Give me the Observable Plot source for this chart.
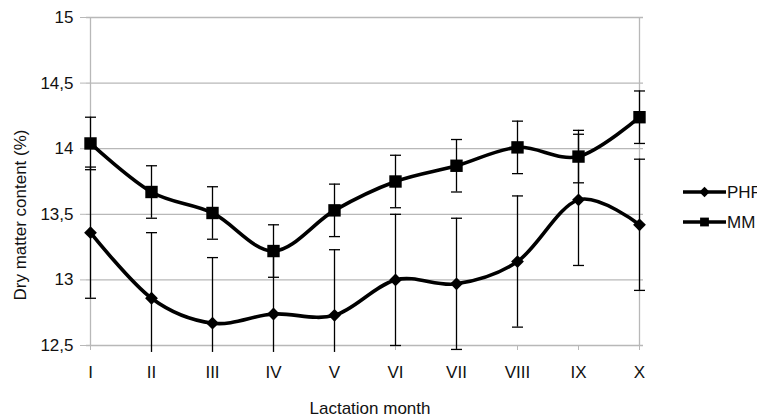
<!DOCTYPE html>
<html>
<head>
<meta charset="utf-8">
<script src="https://cdn.jsdelivr.net/npm/d3@7"></script>
<script src="https://cdn.jsdelivr.net/npm/@observablehq/plot@0.6"></script>
<style>
  html, body { margin: 0; padding: 0; background: #fff; overflow: hidden; }
  #chart svg { display: block; font-family: "Liberation Sans", Arial, sans-serif; }
</style>
</head>
<body>
<div id="chart"></div>
<script>
// ---- data ----
const months = ["I", "II", "III", "IV", "V", "VI", "VII", "VIII", "IX", "X"];
const seriesNames = ["PHF", "MM"];
const phfMean = [13.36, 12.86, 12.67, 12.74, 12.73, 13.00, 12.97, 13.14, 13.61, 13.42];
const phfSD   = [0.5, 0.5, 0.5, 0.5, 0.5, 0.5, 0.5, 0.5, 0.5, 0.5];
const mmMean  = [14.04, 13.67, 13.51, 13.22, 13.53, 13.75, 13.87, 14.01, 13.94, 14.24];
const mmSD    = [0.2, 0.2, 0.2, 0.2, 0.2, 0.2, 0.2, 0.2, 0.2, 0.2];
const yTicks  = [12.5, 13, 13.5, 14, 14.5, 15];
const yDomain = [12.5, 15];
const plotFloor = 12.447; // lower edge of the chart's plot area (error bars are cut here)

// ---- build table ----
const rows = [];
months.forEach((m, i) => {
  rows.push({month: m, series: "PHF", mean: phfMean[i], lo: phfMean[i] - phfSD[i], hi: phfMean[i] + phfSD[i]});
  rows.push({month: m, series: "MM", mean: mmMean[i], lo: mmMean[i] - mmSD[i], hi: mmMean[i] + mmSD[i]});
});
rows.forEach(r => { r.loClip = Math.max(r.lo, plotFloor); });
const lowCaps = rows.filter(r => r.lo >= plotFloor);

// ---- custom symbols ----
const diamond = {draw(ctx, size) { const r = Math.sqrt(size / Math.PI); ctx.moveTo(0, -r); ctx.lineTo(r, 0); ctx.lineTo(0, r); ctx.lineTo(-r, 0); ctx.closePath(); }};
const square  = {draw(ctx, size) { const r = Math.sqrt(size / Math.PI); ctx.rect(-r, -r, 2 * r, 2 * r); }};
const cap     = {draw(ctx, size) { const r = Math.sqrt(size / Math.PI); ctx.moveTo(-r, 0); ctx.lineTo(r, 0); }};

const fmt = d => String(d).replace(".", ",");
const grid = "#b8b8b8";
const W = 757, H = 419;

const chart = Plot.plot({
  width: W,
  height: H,
  marginLeft: 86,
  marginRight: 114,
  marginTop: 17,
  marginBottom: 74,
  style: {fontFamily: "Liberation Sans, Arial, sans-serif", fontSize: "17px", color: "#111", background: "#fff"},
  x: {type: "point", domain: months, padding: 0, label: null},
  y: {domain: yDomain, label: null},
  marks: [
    Plot.gridY(yTicks, {stroke: grid, strokeOpacity: 1, strokeWidth: 1.3}),
    Plot.ruleX([months[0], months[months.length - 1]], {stroke: grid, strokeWidth: 1.3}),
    Plot.axisY(yTicks, {tickFormat: fmt, tickSize: 6, tickPadding: 7, stroke: grid, fill: "#111", fontSize: 17}),
    Plot.axisX(months, {tickSize: 5, tickPadding: 15, stroke: grid, fill: "#111", fontSize: 17}),
    // error bars
    Plot.ruleX(rows, {x: "month", y1: "loClip", y2: "hi", stroke: "#000", strokeWidth: 1.3}),
    Plot.dot(rows, {x: "month", y: "hi", symbol: cap, r: 5.5, stroke: "#000", fill: "none", strokeWidth: 1.3}),
    Plot.dot(lowCaps, {x: "month", y: "lo", symbol: cap, r: 5.5, stroke: "#000", fill: "none", strokeWidth: 1.3}),
    // lines
    Plot.line(rows, {x: "month", y: "mean", z: "series", curve: "cardinal", stroke: "#000", strokeWidth: 3.6}),
    // markers
    Plot.dot(rows.filter(r => r.series === "PHF"), {x: "month", y: "mean", symbol: diamond, r: 6.4, fill: "#000", stroke: "none"}),
    Plot.dot(rows.filter(r => r.series === "MM"), {x: "month", y: "mean", symbol: square, r: 6.2, fill: "#000", stroke: "none"})
  ]
});

document.getElementById("chart").appendChild(chart);

// axis titles and legend
const svg = d3.select(chart);
svg.append("text")
  .attr("transform", "translate(26,215) rotate(-90)")
  .attr("text-anchor", "middle")
  .attr("font-size", 17)
  .attr("fill", "#111")
  .text("Dry matter content (%)");
svg.append("text")
  .attr("x", 370).attr("y", 414)
  .attr("text-anchor", "middle")
  .attr("font-size", 17)
  .attr("fill", "#111")
  .text("Lactation month");

const legendY = [192, 222];
const legendSymbols = [diamond, square];
const legendSizes = [5.2, 4.4];
seriesNames.forEach((name, i) => {
  const g = svg.append("g").attr("transform", `translate(0,${legendY[i]})`);
  g.append("line").attr("x1", 683).attr("x2", 726).attr("y1", 0).attr("y2", 0).attr("stroke", "#000").attr("stroke-width", 3.6);
  const r = legendSizes[i];
  g.append("path").attr("transform", "translate(704.5,0)").attr("d", d3.symbol(legendSymbols[i], Math.PI * r * r)()).attr("fill", "#000");
  g.append("text").attr("x", 727).attr("y", 6).attr("text-anchor", "start").attr("font-size", 17).attr("fill", "#111").text(name);
});
</script>
</body>
</html>
